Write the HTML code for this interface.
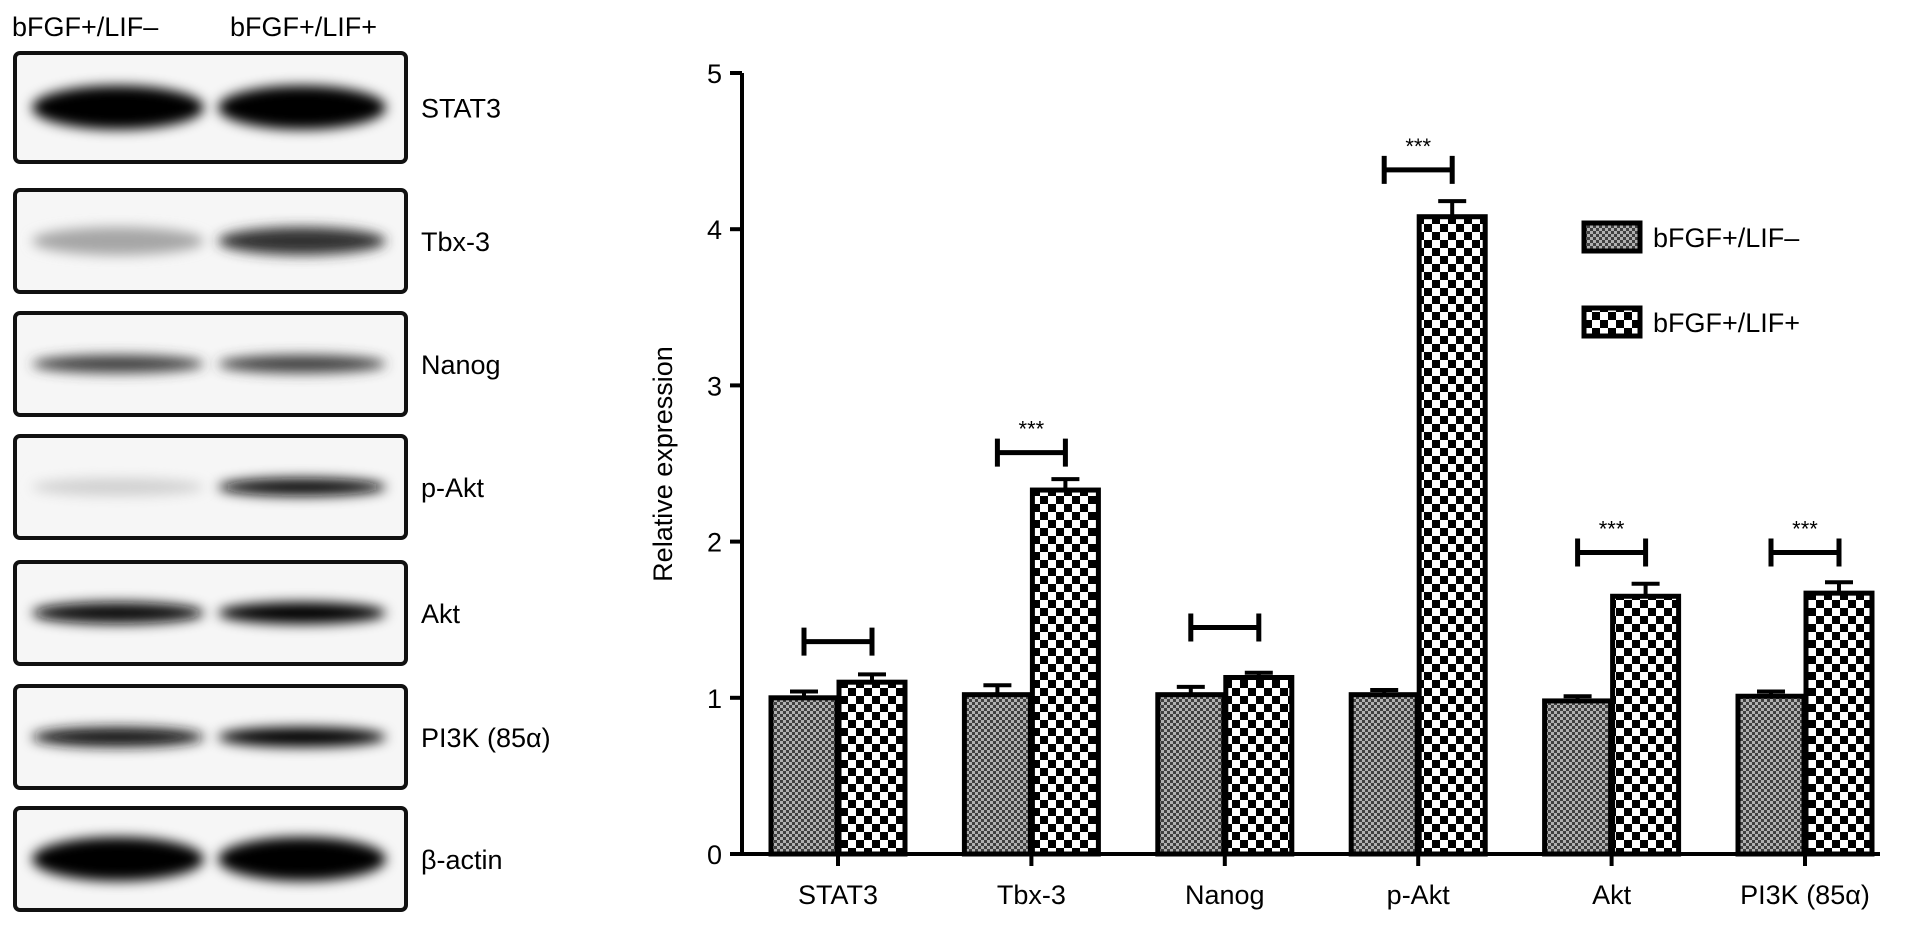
<!DOCTYPE html>
<html><head><meta charset="utf-8"><style>
body{margin:0;background:#fff;width:1913px;height:929px;overflow:hidden}
svg{display:block;font-family:"Liberation Sans",sans-serif}
</style></head><body>
<svg width="1913" height="929" viewBox="0 0 1913 929">
<defs>
<pattern id="pg" width="6" height="6" patternUnits="userSpaceOnUse"><rect width="6" height="6" fill="#b0b0b0"/><rect width="3" height="3" fill="#404040"/><rect x="3" y="3" width="3" height="3" fill="#404040"/></pattern>
<pattern id="pc" width="16" height="16" patternUnits="userSpaceOnUse"><rect width="16" height="16" fill="#fff"/><rect width="8" height="8" fill="#000"/><rect x="8" y="8" width="8" height="8" fill="#000"/></pattern>
<filter id="bl" x="-30%" y="-150%" width="160%" height="400%"><feGaussianBlur stdDeviation="6"/></filter>
</defs>
<g font-size="27">
<text x="12" y="36">bFGF+/LIF–</text>
<text x="230" y="36">bFGF+/LIF+</text>
<g id="blots"></g>
</g>
<g id="chart"></g>
</svg>
<script>
const blotNames=["STAT3","Tbx-3","Nanog","p-Akt","Akt","PI3K (85α)","β-actin"];
const blotTops=[53,190,313,436,562,686,808];
const blotDark1=[1,0.35,0.75,0.18,0.95,0.9,1];
const blotDark2=[1,0.8,0.75,0.95,1,1,1];
const blotThick=[40,24,14,14,18,16,40];
const categories=["STAT3","Tbx-3","Nanog","p-Akt","Akt","PI3K (85α)"];
const valsMinus=[1.0,1.02,1.02,1.02,0.98,1.01];
const errMinus=[0.04,0.06,0.05,0.03,0.03,0.03];
const valsPlus=[1.1,2.33,1.13,4.08,1.65,1.67];
const errPlus=[0.05,0.07,0.03,0.1,0.08,0.07];
const bracketY=[1.36,2.57,1.45,4.38,1.93,1.93];
const sigStars=["","***","","***","***","***"];
const yTicks=[0,1,2,3,4,5];
const legendLabels=["bFGF+/LIF–","bFGF+/LIF+"];
const NS="http://www.w3.org/2000/svg";
function mk(t,a,p,txt){const e=document.createElementNS(NS,t);for(const k in a)e.setAttribute(k,a[k]);if(txt!==undefined)e.textContent=txt;p.appendChild(e);return e;}
const bg=document.getElementById('blots');
const defs=document.querySelector('defs');
blotNames.forEach((n,i)=>{
 const t=blotTops[i],h=i==0?109:102,g=mk('g',{},bg);
 
 
 const cp=mk('clipPath',{id:'cp'+i},defs);
 mk('rect',{x:15,y:t,width:391,height:h,rx:5},cp);
 mk('rect',{x:15,y:t,width:391,height:h,rx:5,fill:'#f6f6f6'},g);
 const inner=mk('g',{'clip-path':'url(#cp'+i+')'},g);
 const cy=t+h/2;
 [[118,86,blotDark1[i]],[302,84,blotDark2[i]]].forEach(b=>{
  const v=Math.round(255*(1-b[2]));
  mk('ellipse',{cx:b[0],cy:cy,rx:b[1],ry:blotThick[i]/2+2,fill:`rgb(${v},${v},${v})`,filter:'url(#bl)'},inner);
 });
 mk('rect',{x:15,y:t,width:391,height:h,rx:5,fill:'none',stroke:'#111','stroke-width':4},g);
 const lb=mk('text',{x:421,y:cy+10,'font-size':27},g,n);
 
 
});
const ch=document.getElementById('chart');
const x0=742,y0=854,yUnit=156.2,x1Tick=838,step=193.4,bw=66;
const Y=v=>y0-v*yUnit, X=i=>x1Tick+i*step;
const axis=mk('path',{d:`M${x0} ${Y(5)} V${y0} H1880`,stroke:'#000','stroke-width':4,fill:'none'},ch);


yTicks.forEach(v=>{
 mk('line',{x1:x0-12,x2:x0,y1:Y(v),y2:Y(v),stroke:'#000','stroke-width':4},ch);
 const t=mk('text',{x:x0-20,y:Y(v)+10,'font-size':27,'text-anchor':'end'},ch,v);
 
 
});
const yt=mk('text',{transform:`translate(672 464) rotate(-90)`,'font-size':27,'text-anchor':'middle'},ch,'Relative expression');


function bar(x,v,e,fill,name){
 mk('line',{x1:x+bw/2,x2:x+bw/2,y1:Y(v),y2:Y(v+e),stroke:'#000','stroke-width':4},ch);
 mk('line',{x1:x+bw/2-14,x2:x+bw/2+14,y1:Y(v+e),y2:Y(v+e),stroke:'#000','stroke-width':4},ch);
 const r=mk('rect',{x:x,y:Y(v),width:bw,height:Y(0)-Y(v),fill:fill,stroke:'#000','stroke-width':5},ch);
 
 
}
categories.forEach((c,i)=>{
 const cx=X(i);
 bar(cx-bw-1,valsMinus[i],errMinus[i],'url(#pg)','bar-lif-minus');
 bar(cx+1,valsPlus[i],errPlus[i],'url(#pc)','bar-lif-plus');
 mk('line',{x1:cx,x2:cx,y1:y0,y2:y0+12,stroke:'#000','stroke-width':4},ch);
 const t=mk('text',{x:cx,y:y0+50,'font-size':27,'text-anchor':'middle'},ch,c);
 
 
 const by=Y(bracketY[i]),bx1=cx-bw/2-1,bx2=cx+bw/2+1;
 const br=mk('path',{d:`M${bx1} ${by-14}V${by+14}M${bx1} ${by}H${bx2}M${bx2} ${by-14}V${by+14}`,stroke:'#000','stroke-width':5,fill:'none'},ch);
 
 
 if(sigStars[i]){const s=mk('text',{x:cx,y:by-16,'font-size':22,'text-anchor':'middle'},ch,sigStars[i]);
  
  }
});
legendLabels.forEach((l,i)=>{
 const cy=237+i*85;
 const s=mk('rect',{x:1584,y:cy-14,width:56,height:28,fill:i?'url(#pc)':'url(#pg)',stroke:'#000','stroke-width':5},ch);
 
 
 const t=mk('text',{x:1653,y:cy+10,'font-size':27},ch,l);
 
 
});
</script>
</body></html>
